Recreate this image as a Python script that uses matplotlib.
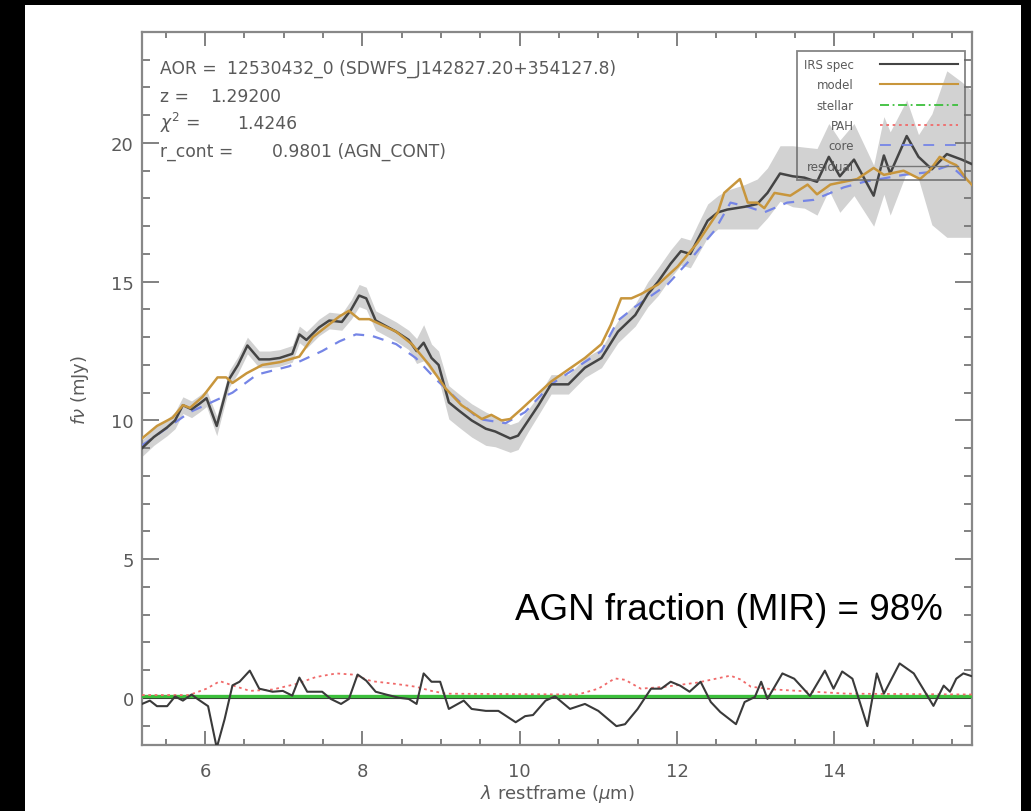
import numpy as np
import matplotlib
matplotlib.use("Agg")
import matplotlib.pyplot as plt
from matplotlib.lines import Line2D
from matplotlib.patches import Rectangle
from matplotlib.ticker import MultipleLocator

# IRS spectrum (rest-frame wavelength in micron, flux density in mJy, 1-sigma error)
spec_wl = [5.20, 5.35, 5.52, 5.62, 5.72, 5.83, 5.93, 6.02, 6.15, 6.31, 6.42, 6.54,
           6.69, 6.82, 6.95, 7.11, 7.20, 7.29, 7.45, 7.58, 7.74, 7.86, 7.96, 8.05,
           8.17, 8.30, 8.43, 8.59, 8.69, 8.78, 8.88, 8.97, 9.10, 9.23, 9.39, 9.57,
           9.69, 9.88, 9.98, 10.11, 10.24, 10.40, 10.62, 10.83, 11.04, 11.25, 11.47,
           11.63, 11.76, 11.92, 12.05, 12.17, 12.26, 12.39, 12.52, 12.64, 12.86,
           13.02, 13.15, 13.31, 13.47, 13.62, 13.78, 13.93, 14.07, 14.25, 14.50,
           14.63, 14.71, 14.92, 15.07, 15.24, 15.43, 15.62, 15.78]
spec_flux = [9.0, 9.4, 9.75, 10.0, 10.55, 10.4, 10.6, 10.8, 9.8, 11.5, 12.0, 12.7,
             12.2, 12.2, 12.25, 12.4, 13.1, 12.9, 13.35, 13.6, 13.55, 14.0, 14.5, 14.4,
             13.6, 13.4, 13.2, 12.9, 12.5, 12.8, 12.25, 12.0, 10.65, 10.35, 10.0, 9.7,
             9.6, 9.35, 9.45, 10.0, 10.55, 11.3, 11.3, 11.9, 12.25, 13.2, 13.8,
             14.55, 15.0, 15.65, 16.1, 16.0, 16.5, 17.2, 17.5, 17.6, 17.7,
             17.8, 18.2, 18.9, 18.8, 18.75, 18.6, 19.5, 18.8, 19.4, 18.1,
             19.55, 18.9, 20.25, 19.5, 19.05, 19.6, 19.4, 19.2]
spec_err = [0.3, 0.3, 0.3, 0.3, 0.3, 0.3, 0.3, 0.3, 0.35, 0.3, 0.3, 0.3,
            0.3, 0.3, 0.3, 0.3, 0.3, 0.3, 0.3, 0.3, 0.3, 0.35, 0.4, 0.4,
            0.35, 0.35, 0.35, 0.35, 0.45, 0.65, 0.5, 0.5, 0.6, 0.6, 0.6, 0.6,
            0.55, 0.5, 0.5, 0.4, 0.35, 0.35, 0.35, 0.35, 0.35, 0.4, 0.4,
            0.45, 0.5, 0.5, 0.5, 0.5, 0.55, 0.6, 0.6, 0.7, 0.8,
            0.9, 0.9, 1.0, 1.1, 1.1, 1.2, 1.2, 1.3, 1.3, 1.1,
            1.4, 1.5, 1.3, 0.8, 2.0, 3.0, 2.8, 2.6]

# total model
model_wl = [5.20, 5.39, 5.59, 5.72, 5.81, 5.97, 6.16, 6.27, 6.35, 6.53, 6.73, 6.95,
            7.20, 7.37, 7.71, 7.83, 7.96, 8.09, 8.43, 8.63, 8.85, 9.06, 9.26, 9.52,
            9.64, 9.77, 9.88, 10.02, 10.40, 10.83, 11.04, 11.16, 11.29, 11.42, 11.54,
            11.76, 12.01, 12.26, 12.52, 12.60, 12.80, 12.90, 13.02, 13.11, 13.24,
            13.44, 13.66, 13.78, 13.95, 14.12, 14.29, 14.50, 14.63, 14.88, 15.09,
            15.21, 15.34, 15.47, 15.55, 15.68, 15.78]
model_flux = [9.35, 9.8, 10.1, 10.55, 10.45, 10.85, 11.55, 11.55, 11.35, 11.7, 12.0, 12.1,
              12.3, 13.0, 13.75, 13.95, 13.65, 13.65, 13.2, 12.75, 12.0, 11.15, 10.55, 10.05,
              10.2, 10.0, 10.05, 10.4, 11.4, 12.25, 12.75, 13.45, 14.4, 14.4, 14.55,
              14.9, 15.55, 16.4, 17.5, 18.2, 18.7, 17.85, 17.85, 17.65, 18.2,
              18.1, 18.5, 18.15, 18.5, 18.6, 18.7, 19.1, 18.85, 19.0, 18.7,
              19.0, 19.5, 19.3, 19.2, 18.7, 18.4]

# AGN core component
core_wl = [5.20, 5.81, 6.35, 6.66, 7.07, 7.49, 7.71, 7.92, 8.12, 8.43, 8.68, 8.93,
           9.19, 9.48, 9.82, 10.07, 10.40, 11.04, 11.25, 11.47, 11.88, 12.17, 12.48,
           12.68, 12.90, 13.11, 13.40, 13.74, 14.12, 14.38, 14.88, 15.21, 15.47, 15.77]
core_flux = [9.1, 10.3, 11.0, 11.65, 11.95, 12.5, 12.85, 13.1, 13.05, 12.75, 12.25, 11.5,
             10.8, 10.05, 9.9, 10.3, 11.3, 12.5, 13.6, 14.1, 14.9, 15.8, 16.85,
             17.85, 17.7, 17.5, 17.85, 17.95, 18.4, 18.6, 18.85, 18.95, 19.2, 18.45]

# PAH component
pah_wl = [5.20, 5.80, 6.02, 6.19, 6.35, 6.57, 6.86, 7.16, 7.41, 7.67, 7.87, 8.12,
          8.43, 8.68, 8.88, 9.06, 10.74, 11.00, 11.21, 11.34, 11.54, 11.85, 12.26,
          12.68, 12.81, 12.94, 13.24, 13.74, 14.16, 15.78]
pah_flux = [0.1, 0.1, 0.33, 0.6, 0.45, 0.25, 0.3, 0.5, 0.75, 0.88, 0.84, 0.6,
            0.5, 0.4, 0.25, 0.15, 0.12, 0.33, 0.7, 0.65, 0.33, 0.4, 0.55,
            0.8, 0.66, 0.4, 0.3, 0.22, 0.15, 0.12]

# stellar component (flat near zero)
stellar_wl = [5.20, 15.78]
stellar_flux = [0.08, 0.08]

# residual (spectrum - model)
resid_wl = [5.20, 5.30, 5.39, 5.52, 5.62, 5.72, 5.83, 5.91, 6.04, 6.15, 6.25, 6.35,
            6.44, 6.57, 6.69, 6.86, 6.99, 7.11, 7.20, 7.30, 7.49, 7.60, 7.73, 7.83,
            7.94, 8.05, 8.17, 8.30, 8.47, 8.59, 8.69, 8.78, 8.88, 8.99, 9.10, 9.29,
            9.39, 9.57, 9.73, 9.95, 10.07, 10.17, 10.33, 10.45, 10.64, 10.83, 11.00,
            11.23, 11.34, 11.50, 11.67, 11.80, 11.92, 12.04, 12.16, 12.30, 12.43,
            12.55, 12.75, 12.86, 12.99, 13.07, 13.15, 13.34, 13.49, 13.69, 13.88,
            13.99, 14.10, 14.23, 14.42, 14.54, 14.63, 14.83, 15.01, 15.26, 15.39,
            15.47, 15.55, 15.64, 15.78]
resid_flux = [-0.22, -0.1, -0.3, -0.3, 0.05, -0.1, 0.12, -0.05, -0.3, -1.8, -0.77, 0.45,
              0.58, 0.98, 0.33, 0.22, 0.25, 0.08, 0.73, 0.22, 0.22, -0.04, -0.22, -0.04,
              0.84, 0.62, 0.22, 0.12, 0.0, -0.04, -0.22, 0.88, 0.58, 0.58, -0.4, -0.1,
              -0.4, -0.47, -0.47, -0.88, -0.66, -0.62, -0.1, 0.05, -0.4, -0.22, -0.47,
              -1.02, -0.95, -0.4, 0.33, 0.33, 0.58, 0.44, 0.22, 0.58, -0.15,
              -0.51, -0.95, -0.15, 0.03, 0.58, -0.04, 0.88, 0.69, 0.07, 0.98,
              0.33, 0.95, 0.69, -1.02, 0.88, 0.15, 1.24, 0.88, -0.29, 0.44,
              0.22, 0.69, 0.88, 0.75]

info_lines = [
    ("AOR = ", "12530432_0 (SDWFS_J142827.20+354127.8)"),
    ("z = ", "1.29200"),
    (r"$\chi^2$ = ", "1.4246"),
    ("r_cont = ", "0.9801 (AGN_CONT)"),
]

W, H = 1031, 812
fig = plt.figure(figsize=(W / 100, H / 100), dpi=100, facecolor="black")


def fx(x):
    return x / W


def fy(y):
    return 1 - y / H


# white page on the black background
fig.patches.append(Rectangle((fx(25), 0), fx(1021) - fx(25), fy(6), transform=fig.transFigure,
                             facecolor="white", edgecolor="none", zorder=-5))

ax = fig.add_axes([fx(142), fy(746), fx(972) - fx(142), fy(33) - fy(746)])
ax.set_facecolor("white")

grey = "#5a5a5a"
lo = np.array(spec_flux) - np.array(spec_err)
hi = np.array(spec_flux) + np.array(spec_err)
ax.fill_between(spec_wl, lo, hi, color="#d2d2d2", lw=0, zorder=1)

ax.axhline(0, color="#333333", lw=1.5, zorder=2)
ax.plot(stellar_wl, stellar_flux, color="#3cbf3c", lw=2.4, zorder=3)
ax.plot(pah_wl, pah_flux, color="#f06a6a", lw=1.3, ls=(0, (1.5, 2)), zorder=3)
ax.plot(resid_wl, resid_flux, color="#3a3a3a", lw=1.5, zorder=4)
ax.plot(core_wl, core_flux, color="#7585e6", lw=1.6, ls=(0, (5, 4)), zorder=4)
ax.plot(spec_wl, spec_flux, color="#444444", lw=1.8, zorder=5)
ax.plot(model_wl, model_flux, color="#c8963c", lw=1.8, zorder=6)

ax.set_xlim(5.2, 15.75)
ax.set_ylim(-1.7, 24)
ax.xaxis.set_major_locator(MultipleLocator(2))
ax.xaxis.set_minor_locator(MultipleLocator(0.5))
ax.yaxis.set_major_locator(MultipleLocator(5))
ax.yaxis.set_minor_locator(MultipleLocator(1))
ax.tick_params(axis="both", which="both", direction="in", top=True, right=True,
               color="#777777", labelcolor=grey, labelsize=13, width=1.3)
ax.tick_params(axis="x", which="major", length=10, pad=12)
ax.tick_params(axis="x", which="minor", length=4)
ax.tick_params(axis="y", which="major", length=12, pad=6)
ax.tick_params(axis="y", which="minor", length=6)
for s in ax.spines.values():
    s.set_color("#888888")
    s.set_linewidth(1.6)

ax.set_xlabel(r"$\lambda$ restframe ($\mu$m)", color=grey, fontsize=13, labelpad=2)
ax.set_ylabel(r"$f\nu$ (mJy)", color=grey, fontsize=13, labelpad=14)

# header text block
name_x = 160
val_x = [227, 210, 237, 272]
for i, (name, val) in enumerate(info_lines):
    yb = 74 + i * 27.5
    fig.text(fx(name_x), fy(yb), name, color=grey, fontsize=12.3, va="baseline")
    fig.text(fx(val_x[i]), fy(yb), val, color=grey, fontsize=12.3, va="baseline")

handles = [
    Line2D([], [], color="#444444", lw=1.5),
    Line2D([], [], color="#c8963c", lw=1.5),
    Line2D([], [], color="#3cbf3c", lw=1.3, ls=(0, (5, 2, 1, 2))),
    Line2D([], [], color="#f06a6a", lw=1.3, ls=(0, (1.5, 2))),
    Line2D([], [], color="#7585e6", lw=1.3, ls=(0, (6, 6))),
    Line2D([], [], color="#777777", lw=1.0),
]
labels = ["IRS spec", "model", "stellar", "PAH", "core", "residual"]
leg = ax.legend(handles, labels, loc="upper right", bbox_to_anchor=(fx(965), fy(52)),
                bbox_transform=fig.transFigure, markerfirst=False, fontsize=8.5,
                labelcolor=grey, handlelength=6.6, labelspacing=0.62, borderpad=0.6,
                handletextpad=2.2, borderaxespad=0, fancybox=False)
leg.get_frame().set_facecolor("none")
leg.get_frame().set_edgecolor("#666666")
leg.get_frame().set_linewidth(1.3)
leg.set_zorder(7)

fig.text(fx(515), fy(620), "AGN fraction (MIR) = 98%", fontsize=26.5, color="black",
         family="Liberation Sans", va="baseline")

fig.savefig("out.png", dpi=100, facecolor="black")
